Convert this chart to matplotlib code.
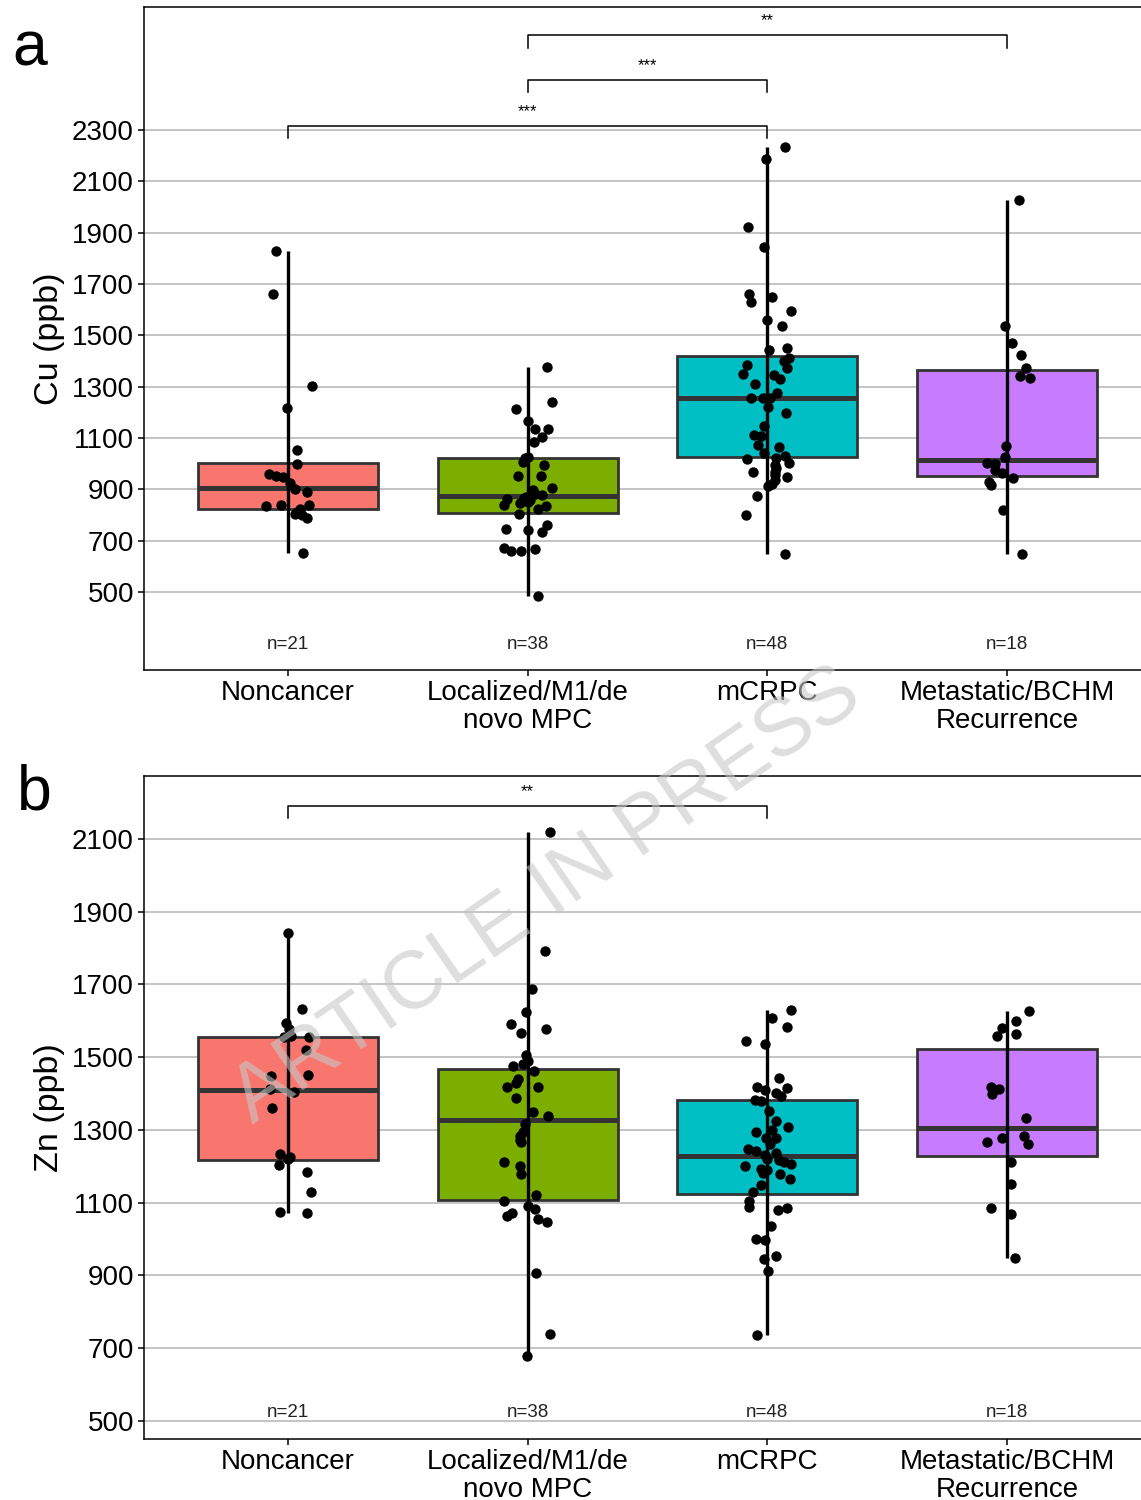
import matplotlib
matplotlib.use("Agg")
import matplotlib.pyplot as plt

plt.rcParams["font.family"] = ["Liberation Sans", "DejaVu Sans"]

groups = ["Noncancer", "Localized/M1/de\nnovo MPC", "mCRPC", "Metastatic/BCHM\nRecurrence"]
fills = ["#F8766D", "#7CAE00", "#00BFC4", "#C77CFF"]
n_labels = ["n=21", "n=38", "n=48", "n=18"]

# ---- panel a : Cu (ppb) ----
cu_noncancer = [1830, 1660, 1303, 1218, 1053, 1000, 961, 952, 947, 924, 903, 890,
                835, 838, 838, 825, 812, 805, 799, 787, 651]
cu_noncancer_dx = [-0.05, -0.06, 0.10, -0.005, 0.04, 0.04, -0.08, -0.05, -0.02, 0.01, 0.03, 0.08,
                   -0.09, -0.03, 0.09, 0.05, 0.04, 0.03, 0.06, 0.08, 0.065]
cu_localized = [1376, 1239, 1214, 1166, 1135, 1134, 1103, 1085, 1027, 1020, 1008, 995,
                950, 950, 907, 898, 888, 880, 877, 869, 865, 863, 859, 849, 846, 839,
                833, 823, 804, 761, 747, 741, 733, 673, 668, 660, 659, 485]
cu_localized_dx = [0.08, 0.10, -0.05, 0.0, 0.03, 0.085, 0.06, 0.026, 0.0, -0.01, -0.02, 0.07,
                   -0.04, 0.054, 0.10, 0.024, 0.02, 0.03, 0.058, -0.005, -0.015, -0.085, 0.01, 0.0, -0.03, -0.1,
                   0.075, 0.043, -0.036, 0.082, -0.09, 0.0, 0.058, -0.1, 0.03, -0.07, -0.026, 0.045]
cu_mcrpc = [2233, 2186, 1922, 1844, 1661, 1651, 1631, 1595, 1560, 1535, 1452, 1444,
            1411, 1400, 1385, 1374, 1350, 1346, 1329, 1311, 1277, 1257, 1257, 1254,
            1222, 1199, 1147, 1111, 1108, 1072, 1064, 1041, 1031, 1021, 1017, 1002,
            995, 982, 969, 968, 955, 948, 936, 920, 913, 874, 798, 647]
cu_mcrpc_dx = [0.075, -0.005, -0.08, -0.015, -0.075, 0.02, -0.067, 0.10, 0.0, 0.06, 0.08, 0.005,
               0.09, 0.07, -0.085, 0.08, -0.10, 0.026, 0.054, -0.053, 0.04, -0.07, -0.018, 0.012,
               0.003, 0.078, -0.015, -0.054, -0.026, -0.04, 0.047, -0.015, 0.075, 0.038, -0.085, 0.09,
               0.033, 0.035, 0.033, -0.06, 0.03, 0.08, 0.03, 0.02, 0.003, -0.043, -0.088, 0.075]
cu_metastatic = [2027, 1536, 1469, 1423, 1372, 1342, 1333, 1069, 1027, 1002, 998, 975,
                 965, 943, 930, 915, 820, 647]
cu_metastatic_dx = [0.05, -0.01, 0.022, 0.058, 0.08, 0.054, 0.096, -0.004, -0.01, -0.085, -0.05, -0.05,
                    -0.022, 0.024, -0.075, -0.067, -0.018, 0.064]
cu_q1 = [823, 807, 1025, 950]
cu_med = [904, 872, 1257, 1014]
cu_q3 = [1002, 1021, 1420, 1365]
cu_sig = [(1, 3, 2316, "***"), (2, 3, 2495, "***"), (2, 4, 2670, "**")]

# ---- panel b : Zn (ppb) ----
zn_noncancer = [1842, 1633, 1595, 1577, 1554, 1557, 1554, 1520, 1447, 1451, 1413, 1405,
                1360, 1234, 1225, 1219, 1204, 1185, 1128, 1075, 1071]
zn_noncancer_dx = [0.0, 0.057, -0.008, 0.005, -0.018, 0.012, 0.09, 0.075, -0.07, 0.082, -0.075, 0.026,
                   -0.068, -0.032, 0.01, 0.0, -0.036, 0.08, 0.096, -0.033, 0.078]
zn_localized = [2119, 1792, 1686, 1625, 1592, 1576, 1566, 1507, 1490, 1482, 1475, 1461,
                1439, 1430, 1418, 1417, 1388, 1350, 1338, 1316, 1295, 1284, 1272, 1267,
                1213, 1201, 1178, 1122, 1105, 1092, 1082, 1072, 1062, 1055, 1048, 906, 738, 678]
zn_localized_dx = [0.092, 0.072, 0.017, -0.008, -0.071, 0.075, -0.029, -0.006, 0.0, -0.018, -0.061, 0.026,
                   -0.04, -0.05, 0.043, -0.0875, -0.05, 0.024, 0.085, -0.0125, -0.02, -0.032, -0.03, -0.026,
                   -0.10, -0.032, -0.026, 0.036, -0.10, 0.0, 0.03, -0.064, -0.085, 0.043, 0.082, 0.033, 0.092, -0.004]
zn_mcrpc = [1630, 1607, 1584, 1543, 1536, 1442, 1419, 1415, 1410, 1401, 1393, 1382,
            1380, 1353, 1325, 1309, 1300, 1295, 1279, 1277, 1260, 1248, 1243, 1236,
            1230, 1219, 1216, 1211, 1206, 1202, 1193, 1190, 1181, 1178, 1165, 1149,
            1130, 1105, 1089, 1085, 1080, 1037, 1000, 996, 954, 946, 912, 736]
zn_mcrpc_dx = [0.097, 0.018, 0.08, -0.0875, -0.011, 0.049, -0.044, 0.08, -0.011, 0.035, 0.056, -0.053,
               -0.025, 0.007, 0.035, 0.0875, 0.02, -0.049, -0.007, 0.035, 0.01, -0.08, -0.049, 0.035,
               -0.01, -0.003, 0.049, 0.069, 0.10, -0.094, -0.025, 0.0, -0.017, 0.053, 0.094, -0.025,
               -0.058, -0.076, -0.076, 0.08, 0.044, 0.017, -0.049, -0.01, 0.035, -0.014, 0.003, -0.044]
zn_metastatic = [1628, 1600, 1580, 1563, 1557, 1419, 1412, 1398, 1334, 1282, 1277, 1268,
                 1261, 1213, 1152, 1085, 1069, 947]
zn_metastatic_dx = [0.09, 0.039, -0.021, 0.035, -0.044, -0.067, -0.035, -0.0625, 0.08, 0.069, -0.021, -0.083,
                    0.0875, 0.017, 0.018, -0.067, 0.017, 0.032]
zn_q1 = [1216, 1108, 1124, 1227]
zn_med = [1410, 1327, 1229, 1306]
zn_q3 = [1555, 1468, 1382, 1522]
zn_sig = [(1, 3, 2191, "**")]


def draw_panel(ax, vals, dxs, q1, med, q3, ylim, yticks, sig, n_y, ylabel):
    pos = [1, 2, 3, 4]
    stats = []
    for i in range(4):
        stats.append(dict(med=med[i], q1=q1[i], q3=q3[i], whislo=q1[i], whishi=q3[i], fliers=[]))
    bp = ax.bxp(stats, positions=pos, widths=0.75, patch_artist=True, showfliers=False,
                manage_ticks=False,
                boxprops=dict(edgecolor="#333333", linewidth=2.0),
                medianprops=dict(color="#333333", linewidth=3.6, solid_capstyle="butt"),
                whiskerprops=dict(linewidth=0), capprops=dict(linewidth=0), zorder=2)
    for patch, c in zip(bp["boxes"], fills):
        patch.set_facecolor(c)
    for i, v in enumerate(vals):
        ax.vlines(pos[i], min(v), max(v), color="black", lw=2.4, zorder=3)
        xs = [pos[i] + d for d in dxs[i]]
        ax.scatter(xs, v, s=56, color="black", zorder=4, linewidths=0)
        ax.text(pos[i], n_y, n_labels[i], ha="center", va="center", fontsize=13.5, color="#222222")

    rng = ylim[1] - ylim[0]
    for a, b, y, lab in sig:
        drop = 0.019 * rng
        ax.plot([a, a, b, b], [y - drop, y, y, y - drop], color="black", lw=1.1, zorder=3)
        ax.text((a + b) / 2, y + 0.021 * rng, lab, ha="center", va="center", fontsize=12)

    ax.set_xlim(0.4, 4.6)
    ax.set_ylim(*ylim)
    ax.set_yticks(yticks)
    ax.set_xticks(pos)
    ax.set_xticklabels(groups, fontsize=20, linespacing=1.1)
    ax.tick_params(axis="y", labelsize=20, length=4.3, width=1.1, pad=3)
    ax.tick_params(axis="x", length=4.3, width=1.1, pad=2.8)
    ax.yaxis.grid(True, color="#c4c4c4", lw=1.4)
    ax.set_axisbelow(True)
    for s in ax.spines.values():
        s.set_color("black")
        s.set_linewidth(1.1)
    ax.set_ylabel(ylabel, fontsize=24.5)
    ax.yaxis.set_label_coords(-0.078, 0.5)


fig = plt.figure(figsize=(11.41, 15), dpi=100)
ax1 = fig.add_axes([144 / 1141, 1 - 670 / 1500, 1007 / 1141, 663 / 1500])
ax2 = fig.add_axes([144 / 1141, 1 - 1439 / 1500, 1007 / 1141, 663 / 1500])

draw_panel(ax1,
           [cu_noncancer, cu_localized, cu_mcrpc, cu_metastatic],
           [cu_noncancer_dx, cu_localized_dx, cu_mcrpc_dx, cu_metastatic_dx],
           cu_q1, cu_med, cu_q3, (196, 2779), list(range(500, 2301, 200)), cu_sig, 297, "Cu (ppb)")
draw_panel(ax2,
           [zn_noncancer, zn_localized, zn_mcrpc, zn_metastatic],
           [zn_noncancer_dx, zn_localized_dx, zn_mcrpc_dx, zn_metastatic_dx],
           zn_q1, zn_med, zn_q3, (450, 2273), list(range(500, 2101, 200)), zn_sig, 522, "Zn (ppb)")

fig.text(12 / 1141, 1 - 66 / 1500, "a", fontsize=45, va="baseline", ha="left")
fig.text(17 / 1141, 1 - 810 / 1500, "b", fontsize=45, va="baseline", ha="left")

# watermark
fig.text(252 / 1141, 1 - 1124 / 1500, "ARTICLE IN PRESS", fontsize=58.5, rotation=34.5,
         rotation_mode="anchor", ha="left", va="baseline",
         color="#c8c8c8", alpha=0.6, zorder=10)

fig.savefig("out.png", dpi=100)
